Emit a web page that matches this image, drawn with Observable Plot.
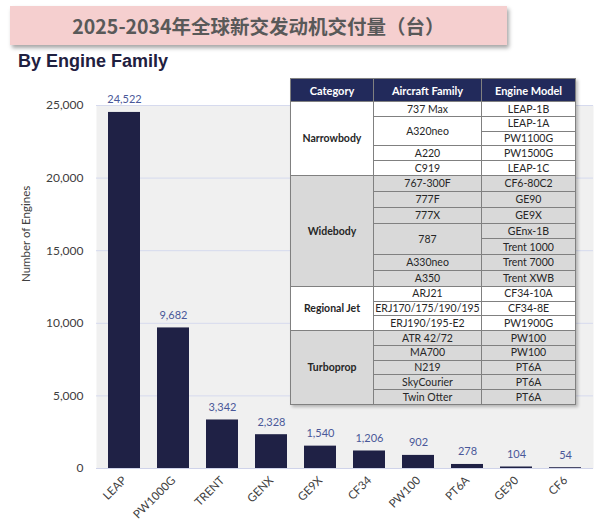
<!DOCTYPE html>
<html><head><meta charset="utf-8">
<script src="https://cdn.jsdelivr.net/npm/d3@7"></script>
<script src="https://cdn.jsdelivr.net/npm/@observablehq/plot@0.6"></script>
<style>
body{margin:0;background:#fff;}
#wrap{position:relative;width:609px;height:526px;overflow:hidden;}
#chart{position:absolute;left:0;top:0;}
#title{position:absolute;left:10px;top:6px;width:497px;height:39px;background:#f5cfcf;box-shadow:2px 3px 4px rgba(0,0,0,.35);font-family:"Noto Sans CJK SC";font-weight:bold;font-size:19.5px;color:#595959;display:flex;align-items:center;justify-content:center;}
#sub{position:absolute;left:18px;top:52px;line-height:18px;font-family:"Liberation Sans";font-weight:bold;font-size:18px;color:#1f2040;}
#tbl{position:absolute;left:290px;top:78px;border-collapse:collapse;font-family:Lato;font-size:10.5px;color:#262626;box-shadow:2px 2px 3px rgba(0,0,0,.25);table-layout:fixed;}
#tbl td,#tbl th{border:1px solid #808080;text-align:center;padding:0;line-height:1;white-space:nowrap;overflow:hidden;}
#tbl th{background:#222a5b;color:#fff;font-weight:bold;height:22px;font-size:11px;}
#tbl td.cat{font-weight:bold;}
</style>
</head><body>
<div id="wrap">
  <div id="chart"></div>
  <div id="title"></div>
  <div id="sub"></div>
  <table id="tbl"></table>
</div>
<script>
const titleText = "2025-2034年全球新交发动机交付量（台）";
const subtitleText = "By Engine Family";
const yLabel = "Number of Engines";
const engines = ["LEAP","PW1000G","TRENT","GENX","GE9X","CF34","PW100","PT6A","GE90","CF6"];
const deliveries = [24522,9682,3342,2328,1540,1206,902,278,104,54];
const yTicks = [0,5000,10000,15000,20000,25000];

const tableHeaders = ["Category","Aircraft Family","Engine Model"];
const rowCategory = ["Narrowbody","Narrowbody","Narrowbody","Narrowbody","Narrowbody",
  "Widebody","Widebody","Widebody","Widebody","Widebody","Widebody","Widebody",
  "Regional Jet","Regional Jet","Regional Jet",
  "Turboprop","Turboprop","Turboprop","Turboprop","Turboprop"];
const rowAircraft = ["737 Max","A320neo","A320neo","A220","C919",
  "767-300F","777F","777X","787","787","A330neo","A350",
  "ARJ21","ERJ170/175/190/195","ERJ190/195-E2",
  "ATR 42/72","MA700","N219","SkyCourier","Twin Otter"];
const rowEngine = ["LEAP-1B","LEAP-1A","PW1100G","PW1500G","LEAP-1C",
  "CF6-80C2","GE90","GE9X","GEnx-1B","Trent 1000","Trent 7000","Trent XWB",
  "CF34-10A","CF34-8E","PW1900G",
  "PW100","PW100","PT6A","PT6A","PT6A"];
const groupFill = {"Narrowbody":"#ffffff","Widebody":"#d9d9d9","Regional Jet":"#ffffff","Turboprop":"#d9d9d9"};
const groupRowHeight = {"Narrowbody":14.8,"Widebody":15.85,"Regional Jet":14.7,"Turboprop":14.8};

document.getElementById("title").textContent = titleText;
document.getElementById("sub").textContent = subtitleText;

const data = engines.map((e,i)=>({engine:e, value:deliveries[i]}));
const fmt = d3.format(",");

const chart = Plot.plot({
  width:609, height:526,
  marginTop:105, marginBottom:58, marginLeft:96, marginRight:16,
  style:{fontFamily:"Lato", fontSize:"11.5px", color:"#404040", background:"transparent"},
  x:{domain:engines, paddingInner:0.34, paddingOuter:0.16, label:null},
  y:{domain:[0,25000], label:null},
  marks:[
    Plot.frame({fill:"#f0f0f0", stroke:"none"}),
    Plot.gridY(yTicks,{stroke:"#d6daee", strokeOpacity:1}),
    Plot.ruleY([0],{stroke:"#cfd3ea"}),
    Plot.barY(data,{x:"engine", y:"value", fill:"#1f2145"}),
    Plot.text(data,{x:"engine", y:"value", text:d=>fmt(d.value), dy:-9, lineAnchor:"bottom", fill:"#4a5899", fontSize:11}),
    Plot.axisY(yTicks,{tickSize:0, tickPadding:13, tickFormat:fmt, label:null, fontSize:12}),
    Plot.text([yLabel],{frameAnchor:"left", dx:-70, dy:-5, rotate:-90, fontSize:11.5, fill:"#404040"}),
    Plot.axisX({tickSize:0, tickPadding:10, tickRotate:-45, label:null, fontSize:11.5})
  ]
});
document.getElementById("chart").appendChild(chart);

// table
const tbl = document.getElementById("tbl");
const colgroup = document.createElement("colgroup");
[83,108,94].forEach(w=>{const c=document.createElement("col");c.style.width=w+"px";colgroup.appendChild(c);});
tbl.appendChild(colgroup);
const hr = document.createElement("tr");
tableHeaders.forEach(h=>{const th=document.createElement("th");th.textContent=h;hr.appendChild(th);});
tbl.appendChild(hr);
for(let i=0;i<rowCategory.length;i++){
  const tr=document.createElement("tr");
  const cat=rowCategory[i];
  tr.style.height=groupRowHeight[cat]+"px";
  tr.style.background=groupFill[cat];
  if(i===0||rowCategory[i-1]!==cat){
    let n=1; while(rowCategory[i+n]===cat) n++;
    const td=document.createElement("td"); td.className="cat"; td.rowSpan=n; td.textContent=cat; tr.appendChild(td);
  }
  if(i===0||rowAircraft[i-1]!==rowAircraft[i]){
    let n=1; while(rowAircraft[i+n]===rowAircraft[i]) n++;
    const td=document.createElement("td"); td.rowSpan=n; td.textContent=rowAircraft[i]; tr.appendChild(td);
  }
  const te=document.createElement("td"); te.textContent=rowEngine[i]; tr.appendChild(te);
  tbl.appendChild(tr);
}
</script>
</body></html>
